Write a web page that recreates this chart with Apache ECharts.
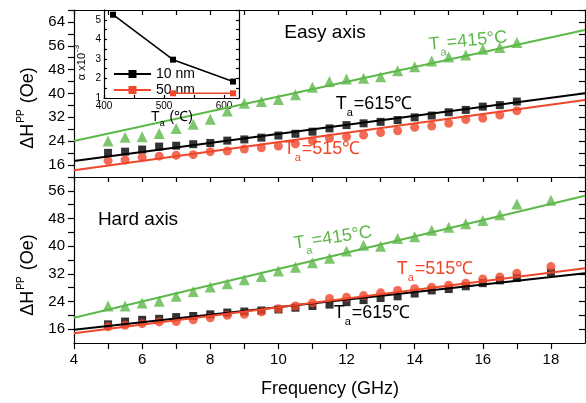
<!DOCTYPE html>
<html><head><meta charset="utf-8">
<script src="https://cdn.jsdelivr.net/npm/echarts@6/dist/echarts.min.js"></script>
<style>html,body{margin:0;padding:0;background:#fff}#c{width:586px;height:403px}</style>
</head><body><div id="c"></div>
<script>
// ---------- data ----------
const freqTop = [5,5.5,6,6.5,7,7.5,8,8.5,9,9.5,10,10.5,11,11.5,12,12.5,13,13.5,14,14.5,15,15.5,16,16.5,17];
const freqBottom = [5,5.5,6,6.5,7,7.5,8,8.5,9,9.5,10,10.5,11,11.5,12,12.5,13,13.5,14,14.5,15,15.5,16,16.5,17,18];

const easy415 = [24.1,25.3,25.5,26.6,28.3,29.7,31.4,34.1,36.7,37.3,38.0,39.6,42.1,44.0,44.9,45.1,45.6,47.6,49.0,50.9,52.2,52.9,54.8,55.4,57.1];
const easy615 = [20.1,20.5,21.2,22.2,22.5,23.0,23.4,24.2,24.6,25.2,25.9,26.5,27.2,28.3,29.4,30.0,30.5,31.1,32.0,32.6,33.7,34.5,35.6,36.1,37.3];
const easy515 = [17.5,17.7,18.6,19.0,19.3,19.5,20.5,20.7,21.4,21.8,22.4,23.1,24.1,25.0,25.5,26.1,26.9,27.5,28.7,29.1,30.0,31.3,31.7,32.8,34.2];

const hard415 = [22.7,22.7,23.6,24.1,25.5,26.9,28.2,29.1,30.3,31.2,32.8,33.9,35.2,36.5,38.6,40.3,40.0,42.2,42.7,44.6,45.5,46.5,47.4,49.1,52.2,53.3];
const hard615 = [17.4,18.2,18.7,19.0,19.5,19.8,20.3,20.8,21.1,21.4,21.7,22.2,22.7,23.1,23.8,24.4,25.0,25.5,26.3,27.2,27.6,28.4,29.3,30.1,30.8,32.4];
const hard515 = [16.7,17.1,17.6,18.1,18.2,18.7,19.3,20.0,20.3,21.0,21.9,22.7,23.6,24.9,25.2,25.7,26.5,27.2,27.7,28.1,28.7,29.3,30.5,31.1,32.2,34.1];

const fitX = [4, 19];
const easyFit415 = [24.1, 61.3];
const easyFit615 = [17.4, 40.1];
const easyFit515 = [14.3, 37.8];
const hardFit415 = [19.3, 54.6];
const hardFit615 = [15.8, 32.2];
const hardFit515 = [14.8, 33.6];

const annealT = [415, 515, 615];
const alpha10nm = [5.26, 2.96, 1.84];
const alpha50nm = [null, 1.24, 1.24];

// tick labels
const freqLabels = [4,6,8,10,12,14,16,18];
const freqTicks = [4,5,6,7,8,9,10,11,12,13,14,15,16,17,18];
const easyLabels = [16,24,32,40,48,56,64];
const easyTicks = [16,20,24,28,32,36,40,44,48,52,56,60,64,68];
const hardLabels = [16,24,32,40,48,56];
const hardTicks = [16,20,24,28,32,36,40,44,48,52,56,60];
const insetTLabels = [400,500,600];
const insetTTicks = [400,450,500,550,600];
const insetALabels = [1,2,3,4,5];
const insetATicks = [1,1.5,2,2.5,3,3.5,4,4.5,5,5.5];

// ---------- styles ----------
const FONT = "'Liberation Sans', Arial, sans-serif";
const GREEN = '#5db84a', RED = '#f0462a', BLACK = '#000';
const zip = (xs, ys) => xs.map((x, i) => [x, ys[i]]);

function ax(grid, pos, min, max, ticks, labels, inside, len, extra) {
  return Object.assign({
    gridIndex: grid, type:'value', position: pos, min, max,
    axisLine: {show:true, onZero:false, lineStyle:{color:BLACK, width:1.2}},
    axisTick: ticks ? {show:true, inside, length:len, customValues:ticks, lineStyle:{color:BLACK, width:1.2}} : {show:false},
    axisLabel: labels ? {show:true, customValues:labels, color:BLACK, fontFamily:FONT, fontSize:15, margin:9} : {show:false},
    splitLine: {show:false}, minorTick:{show:false}
  }, extra || {});
}

const xAxis = [
  ax(0,'bottom',4,19,null,null),
  ax(0,'top',4,19,freqTicks,null,true,5),
  ax(1,'bottom',4,19,freqTicks,freqLabels,false,6),
  ax(1,'top',4,19,freqTicks,null,true,5),
  ax(2,'bottom',400,625,insetTTicks,insetTLabels,true,3),
  ax(2,'top',400,625,null,null)
];
xAxis[4].axisLabel.fontSize = 10; xAxis[4].axisLabel.margin = 3;

const yAxis = [
  ax(0,'left',12,68,easyTicks,easyLabels,false,6),
  ax(0,'right',12,68,easyTicks,null,true,6),
  ax(1,'left',12,60,hardTicks,hardLabels,false,6),
  ax(1,'right',12,60,hardTicks,null,true,6),
  ax(2,'left',1,5.5,insetATicks,insetALabels,true,3),
  ax(2,'right',1,5.5,insetATicks,null,true,3)
];
yAxis[4].axisLabel.fontSize = 10; yAxis[4].axisLabel.margin = 3;

function scatter(xi, yi, xs, ys, symbol, size, color) {
  return {type:'scatter', xAxisIndex:xi, yAxisIndex:yi, data:zip(xs, ys), symbol, symbolSize:size,
    itemStyle:{color}, z:3, silent:true};
}
function fit(xi, yi, ys, color) {
  return {type:'line', xAxisIndex:xi, yAxisIndex:yi, data:zip(fitX, ys), showSymbol:false, symbol:'none',
    lineStyle:{color, width:2}, z:4, silent:true, clip:true};
}

const series = [
  scatter(0,0,freqTop,easy415,'triangle',11,GREEN),
  scatter(0,0,freqTop,easy615,'rect',8,BLACK),
  scatter(0,0,freqTop,easy515,'circle',9,RED),
  fit(0,0,easyFit415,GREEN), fit(0,0,easyFit615,BLACK), fit(0,0,easyFit515,RED),
  scatter(2,2,freqBottom,hard415,'triangle',11,GREEN),
  scatter(2,2,freqBottom,hard615,'rect',8,BLACK),
  scatter(2,2,freqBottom,hard515,'circle',9,RED),
  fit(2,2,hardFit415,GREEN), fit(2,2,hardFit615,BLACK), fit(2,2,hardFit515,RED),
  {type:'line', name:'10 nm', xAxisIndex:4, yAxisIndex:4, data:zip(annealT, alpha10nm), symbol:'rect', symbolSize:6,
    itemStyle:{color:BLACK}, lineStyle:{color:BLACK, width:1.5}, z:5},
  {type:'line', name:'50 nm', xAxisIndex:4, yAxisIndex:4, data:zip(annealT, alpha50nm), symbol:'rect', symbolSize:6,
    itemStyle:{color:RED}, lineStyle:{color:RED, width:1.5}, z:5}
];

function txt(x, y, text, color, size, rot, subSize, subPad) {
  return {type:'text', x, y, rotation: rot || 0, z:10, silent:true,
    style:{text, fill:color, fontSize:size, fontFamily:FONT, align:'center', verticalAlign:'middle',
      rich:{
        s:{fontSize:subSize||11, fill:color, fontFamily:FONT, padding:[subPad||18,1,0,0]},
        p:{fontSize:subSize||10, fill:color, fontFamily:FONT, padding:[0,1,subPad||14,1]}
      }}};
}

const graphic = [
  txt(325, 33, 'Easy axis', BLACK, 19),
  txt(138, 220, 'Hard axis', BLACK, 19),
  txt(468, 41, 'T{s|a}=415°C', GREEN, 18, 0.095),
  txt(374, 104, 'T{s|a}=615℃', BLACK, 18),
  txt(322, 149, 'T{s|a}=515℃', RED, 18),
  txt(333, 238, 'T{s|a}=415°C', GREEN, 18, 0.15),
  txt(435, 269, 'T{s|a}=515℃', RED, 18),
  txt(372, 313, 'T{s|a}=615℃', BLACK, 18),
  txt(28, 108, 'ΔH{p|PP} (Oe)', BLACK, 18, Math.PI/2),
  txt(28, 275, 'ΔH{p|PP} (Oe)', BLACK, 18, Math.PI/2),
  txt(330, 389, 'Frequency (GHz)', BLACK, 18),
  txt(172, 117, 'T{s|a} (℃)', BLACK, 14, 0, 9, 14),
  txt(82, 62, 'α x10{p|-3}', BLACK, 11, Math.PI/2, 8, 10)
];

const chart = echarts.init(document.getElementById('c'), null, {renderer:'canvas'});
chart.setOption({
  animation:false,
  backgroundColor:'#fff',
  grid:[
    {left:74, top:10, width:511, height:167},
    {left:74, top:177, width:511, height:166},
    {left:104, top:10, width:135, height:88}
  ],
  legend:{data:['10 nm','50 nm'], orient:'vertical', left:108, top:62, itemWidth:37, itemHeight:10, itemGap:2,
    textStyle:{fontSize:14, fontFamily:FONT, color:BLACK, lineHeight:14}, selectedMode:false},
  xAxis, yAxis, series, graphic
});
</script></body></html>
